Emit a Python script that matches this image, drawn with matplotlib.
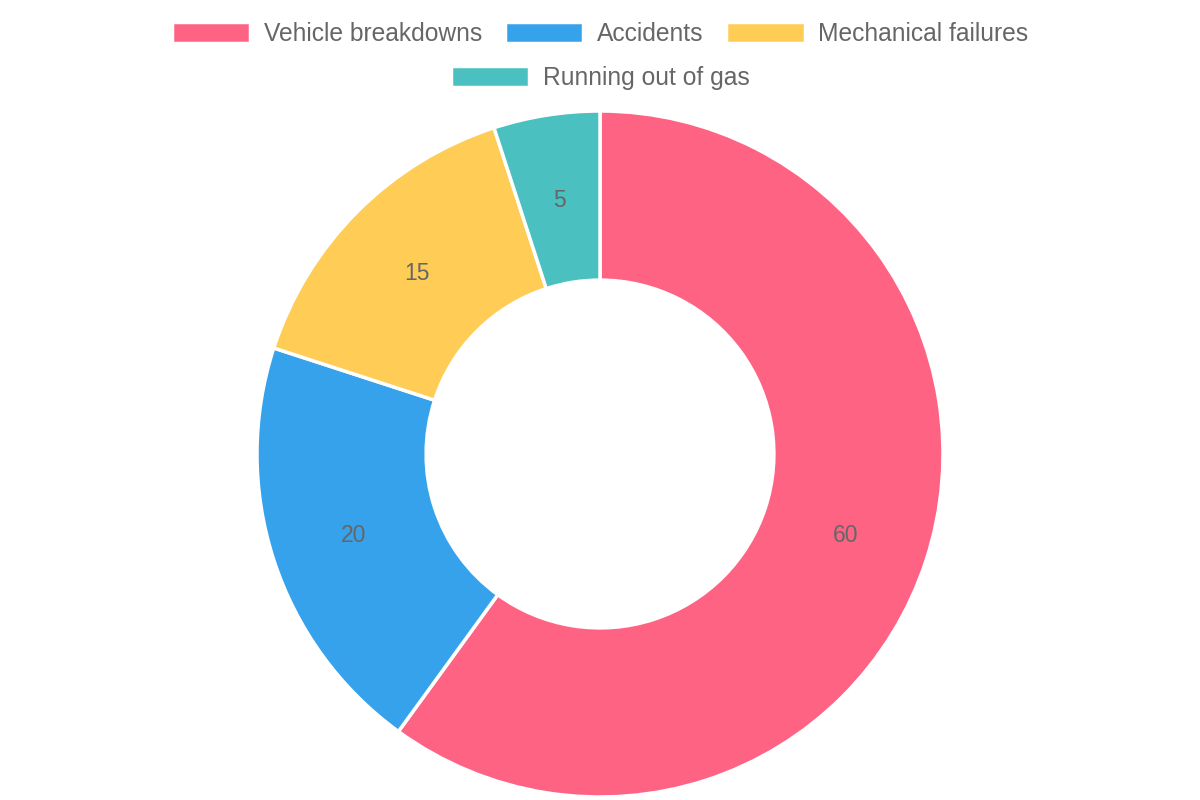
import matplotlib.pyplot as plt

labels = ["Vehicle breakdowns", "Accidents", "Mechanical failures", "Running out of gas"]
values = [60, 20, 15, 5]
colors = ["#FF6384", "#36A2EB", "#FFCD56", "#4BC0C0"]

plt.rcParams['font.family'] = ['Liberation Sans', 'DejaVu Sans']

fig = plt.figure(figsize=(12, 8), dpi=100)
ax = fig.add_axes([0, 0, 1, 1])

total = sum(values)
wedges, texts, autotexts = ax.pie(
    values, colors=colors, startangle=90, counterclock=False,
    center=(600, 346), radius=343, frame=True,
    wedgeprops=dict(width=343 * 0.493, edgecolor='white', linewidth=2.5),
    autopct=lambda p: f'{p * total / 100:.0f}', pctdistance=0.754,
    textprops=dict(color='#666666', fontsize=16.5))
for t in autotexts:
    x, y = t.get_position()
    t.set_position((x, y - 2))
ax.set_xlim(0, 1200)
ax.set_ylim(0, 800)
ax.set_aspect('equal')
ax.axis('off')

leg_kw = dict(loc='center', frameon=False, fontsize=17.7, labelcolor='#666666',
              handlelength=3.2, handleheight=0.9, handletextpad=0.55,
              columnspacing=0.92, borderpad=0, borderaxespad=0)
fig.legend(wedges[:3], labels[:3], ncol=3, bbox_to_anchor=(0.5, 1 - 34 / 800), **leg_kw)
fig.legend(wedges[3:], labels[3:], ncol=1, bbox_to_anchor=(0.5, 1 - 78 / 800), **leg_kw)

fig.savefig('out.png', dpi=100)
